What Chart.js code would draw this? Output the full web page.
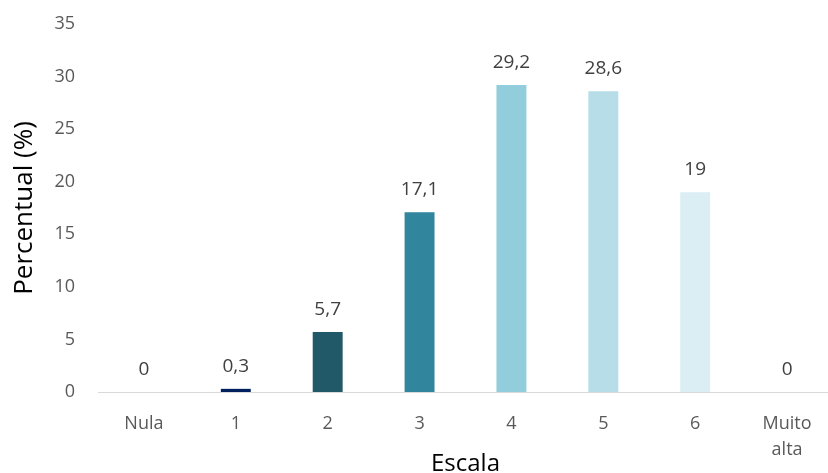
<!DOCTYPE html>
<html>
<head>
<meta charset="utf-8">
<script src="https://cdn.jsdelivr.net/npm/chart.js@4/dist/chart.umd.min.js"></script>
<style>
html,body{margin:0;padding:0;background:#fff;overflow:hidden;}
#wrap{width:828px;height:473px;position:relative;overflow:hidden;}
#c{display:block;}
</style>
</head>
<body>
<div id="wrap"><canvas id="c" width="833" height="473"></canvas></div>
<script>
const categories = ["Nula", "1", "2", "3", "4", "5", "6", ["Muito", "alta"]];
const values = [0, 0.3, 5.7, 17.1, 29.2, 28.6, 19, 0];
const barColors = ["#002060", "#002060", "#215968", "#31859c", "#92cddc", "#b7dee8", "#daeef3", "#daeef3"];
const yTicks = [0, 5, 10, 15, 20, 25, 30, 35];
const xTitle = "Escala";
const yTitle = "Percentual (%)";

const FONT = "'Open Sans', 'Liberation Sans', sans-serif";

const valueLabels = {
  id: 'valueLabels',
  afterDatasetsDraw(chart) {
    const ctx = chart.ctx;
    const meta = chart.getDatasetMeta(0);
    ctx.save();
    ctx.font = "19px " + FONT;
    ctx.fillStyle = "#404040";
    ctx.textAlign = "center";
    ctx.textBaseline = "alphabetic";
    meta.data.forEach((bar, i) => {
      const v = chart.data.datasets[0].data[i];
      ctx.fillText(String(v).replace('.', ','), bar.x, bar.y - 17);
    });
    ctx.restore();
  }
};

new Chart(document.getElementById('c'), {
  type: 'bar',
  data: {
    labels: categories,
    datasets: [{
      data: values,
      backgroundColor: barColors,
      barPercentage: 0.326,
      categoryPercentage: 1.0
    }]
  },
  options: {
    responsive: false,
    animation: false,
    layout: { padding: { top: 24, right: 0, left: 12, bottom: 0 } },
    plugins: { legend: { display: false }, tooltip: { enabled: false } },
    scales: {
      x: {
        afterFit(axis) { axis.height = 81; },
        grid: { display: false, drawTicks: false },
        border: { color: "#d9d9d9", width: 1 },
        ticks: { color: "#595959", font: { family: FONT, size: 18, lineHeight: 1.45 }, padding: 19, maxRotation: 0, autoSkip: false },
        title: { display: true, text: xTitle, color: "#000", font: { family: FONT, size: 24, lineHeight: 1 }, padding: { top: 0, bottom: -3 } }
      },
      y: {
        min: 0, max: 35,
        afterFit(axis) { axis.width = 86; axis.paddingTop = 0; axis.paddingBottom = 0; },
        afterBuildTicks(axis) { axis.ticks = yTicks.map(v => ({ value: v })); },
        grid: { display: false, drawTicks: false },
        border: { display: false },
        ticks: { color: "#595959", font: { family: FONT, size: 18 }, padding: 23 },
        title: { display: true, text: yTitle, color: "#000", font: { family: FONT, size: 26, lineHeight: 1 }, padding: { top: 0, bottom: 0 } }
      }
    }
  },
  plugins: [valueLabels]
});
</script>
</body>
</html>
